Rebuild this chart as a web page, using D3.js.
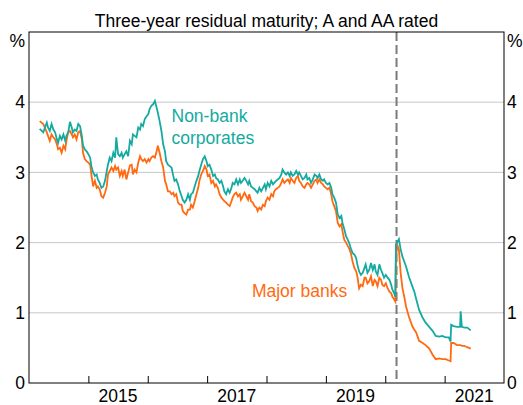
<!DOCTYPE html>
<html>
<head>
<meta charset="utf-8">
<script src="https://cdn.jsdelivr.net/npm/d3@7"></script>
<style>
  body { margin: 0; background: #fff; }
  svg text { font-family: Arial, "Liberation Sans", sans-serif; }
</style>
</head>
<body>
<div id="chart"></div>
<script>
const width = 523;
const height = 405;
const margin = ({top: 32, right: 19, bottom: 22, left: 29});
const fontSize = 17.5;

const title = "Three-year residual maturity; A and AA rated";

// dates as decimal years
const dates = [
  2014.18, 2014.24, 2014.30, 2014.32, 2014.35, 2014.38, 2014.41, 2014.44, 2014.47, 2014.49,
  2014.52, 2014.55, 2014.58, 2014.61, 2014.63, 2014.66, 2014.69, 2014.72, 2014.74, 2014.77,
  2014.80, 2014.83, 2014.86, 2014.89, 2014.91, 2014.94, 2014.97, 2015.00, 2015.03, 2015.05,
  2015.08, 2015.11, 2015.14, 2015.16, 2015.19, 2015.22, 2015.25, 2015.28, 2015.31, 2015.33,
  2015.36, 2015.39, 2015.42, 2015.45, 2015.47, 2015.50, 2015.53, 2015.56, 2015.58, 2015.61,
  2015.64, 2015.67, 2015.70, 2015.73, 2015.75, 2015.78, 2015.81, 2015.84, 2015.87, 2015.89,
  2015.92, 2015.95, 2015.98, 2016.01, 2016.03, 2016.06, 2016.09, 2016.12, 2016.15, 2016.17,
  2016.20, 2016.23, 2016.26, 2016.29, 2016.31, 2016.34, 2016.37, 2016.40, 2016.43, 2016.45,
  2016.48, 2016.51, 2016.54, 2016.57, 2016.59, 2016.62, 2016.65, 2016.68, 2016.71, 2016.73,
  2016.76, 2016.79, 2016.82, 2016.85, 2016.87, 2016.90, 2016.93, 2016.96, 2016.99, 2017.01,
  2017.04, 2017.07, 2017.10, 2017.13, 2017.15, 2017.18, 2017.21, 2017.24, 2017.27, 2017.29,
  2017.32, 2017.35, 2017.38, 2017.41, 2017.43, 2017.46, 2017.49, 2017.52, 2017.55, 2017.57,
  2017.60, 2017.63, 2017.66, 2017.69, 2017.71, 2017.74, 2017.77, 2017.80, 2017.83, 2017.85,
  2017.88, 2017.91, 2017.94, 2017.97, 2017.99, 2018.02, 2018.05, 2018.08, 2018.11, 2018.13,
  2018.16, 2018.19, 2018.22, 2018.25, 2018.27, 2018.30, 2018.33, 2018.36, 2018.39, 2018.41,
  2018.44, 2018.47, 2018.50, 2018.53, 2018.55, 2018.58, 2018.61, 2018.64, 2018.67, 2018.69,
  2018.72, 2018.75, 2018.78, 2018.81, 2018.84, 2018.86, 2018.89, 2018.92, 2018.95, 2018.97,
  2019.00, 2019.03, 2019.06, 2019.09, 2019.11, 2019.14, 2019.17, 2019.20, 2019.23, 2019.26,
  2019.28, 2019.31, 2019.34, 2019.37, 2019.39, 2019.42, 2019.45, 2019.48, 2019.51, 2019.53,
  2019.56, 2019.59, 2019.62, 2019.65, 2019.67, 2019.70, 2019.73, 2019.76, 2019.79, 2019.82,
  2019.84, 2019.87, 2019.90, 2019.93, 2019.95, 2019.98, 2020.01, 2020.04, 2020.07, 2020.10,
  2020.12, 2020.15, 2020.17, 2020.18, 2020.21, 2020.23, 2020.26, 2020.29, 2020.32, 2020.35,
  2020.40, 2020.46, 2020.49, 2020.52, 2020.57, 2020.63, 2020.68, 2020.74, 2020.80, 2020.85,
  2020.91, 2020.96, 2021.02, 2021.07, 2021.10, 2021.11, 2021.15, 2021.21, 2021.26, 2021.27,
  2021.29, 2021.33, 2021.38, 2021.44
];

const nonBank = [
  3.62, 3.57, 3.71, 3.64, 3.59, 3.69, 3.61, 3.57, 3.47, 3.42,
  3.52, 3.47, 3.54, 3.45, 3.52, 3.57, 3.72, 3.64, 3.57, 3.61,
  3.59, 3.69, 3.66, 3.52, 3.38, 3.33, 3.30, 3.26, 3.21, 3.09,
  3.00, 2.95, 2.97, 2.90, 2.85, 2.78, 2.80, 2.88, 3.02, 3.11,
  3.21, 3.16, 3.28, 3.21, 3.50, 3.26, 3.23, 3.28, 3.21, 3.26,
  3.30, 3.23, 3.45, 3.40, 3.54, 3.52, 3.50, 3.64, 3.61, 3.69,
  3.66, 3.76, 3.80, 3.83, 3.90, 3.95, 3.97, 4.02, 3.92, 3.85,
  3.73, 3.59, 3.40, 3.30, 3.16, 3.11, 3.09, 3.07, 2.95, 2.88,
  2.90, 2.83, 2.73, 2.66, 2.61, 2.57, 2.61, 2.69, 2.61, 2.69,
  2.71, 2.80, 2.88, 2.95, 3.02, 3.11, 3.19, 3.23, 3.16, 3.09,
  3.11, 3.04, 2.95, 2.97, 2.92, 2.90, 2.85, 2.88, 2.80, 2.73,
  2.69, 2.76, 2.71, 2.78, 2.85, 2.83, 2.90, 2.83, 2.90, 2.85,
  2.88, 2.92, 2.88, 2.83, 2.88, 2.80, 2.78, 2.76, 2.73, 2.71,
  2.78, 2.73, 2.78, 2.83, 2.76, 2.85, 2.80, 2.88, 2.83, 2.85,
  2.88, 2.90, 2.92, 2.97, 3.04, 3.00, 2.97, 3.00, 2.95, 3.00,
  2.95, 2.97, 3.02, 2.97, 3.00, 2.95, 2.90, 2.92, 2.97, 2.90,
  2.92, 2.85, 2.90, 2.97, 2.95, 2.92, 2.97, 2.90, 2.88, 2.90,
  2.85, 2.83, 2.85, 2.78, 2.69, 2.64, 2.57, 2.40, 2.35, 2.38,
  2.28, 2.19, 2.09, 2.04, 2.00, 1.92, 1.85, 1.83, 1.78, 1.69,
  1.59, 1.54, 1.57, 1.64, 1.69, 1.57, 1.61, 1.71, 1.61, 1.69,
  1.59, 1.54, 1.69, 1.61, 1.57, 1.50, 1.54, 1.50, 1.47, 1.40,
  1.33, 1.28, 1.23, 1.97, 2.02, 2.05, 1.90, 1.80, 1.73, 1.66,
  1.51, 1.37, 1.30, 1.20, 1.04, 0.93, 0.86, 0.80, 0.74, 0.67,
  0.66, 0.67, 0.65, 0.65, 0.59, 0.83, 0.81, 0.80, 0.80, 1.02,
  0.80, 0.79, 0.79, 0.75
];

const majorBanks = [
  3.73, 3.69, 3.57, 3.52, 3.45, 3.54, 3.50, 3.47, 3.40, 3.33,
  3.35, 3.28, 3.38, 3.33, 3.45, 3.57, 3.59, 3.54, 3.50, 3.54,
  3.47, 3.57, 3.59, 3.47, 3.28, 3.19, 3.16, 3.14, 3.11, 2.97,
  2.80, 2.88, 2.78, 2.80, 2.76, 2.66, 2.64, 2.71, 2.80, 2.97,
  3.02, 3.07, 3.02, 3.09, 3.04, 3.07, 2.95, 3.02, 2.95, 3.04,
  2.90, 3.00, 3.10, 3.11, 2.97, 3.04, 3.00, 3.14, 3.23, 3.19,
  3.16, 3.19, 3.14, 3.19, 3.16, 3.21, 3.23, 3.21, 3.30, 3.38,
  3.28, 3.16, 3.07, 2.88, 2.83, 2.73, 2.73, 2.69, 2.71, 2.66,
  2.69, 2.57, 2.54, 2.54, 2.45, 2.42, 2.40, 2.47, 2.47, 2.54,
  2.50, 2.59, 2.69, 2.78, 2.88, 2.97, 3.02, 3.09, 3.04, 2.95,
  2.97, 2.85, 2.88, 2.80, 2.83, 2.78, 2.69, 2.64, 2.61, 2.59,
  2.57, 2.54, 2.52, 2.59, 2.64, 2.69, 2.71, 2.66, 2.69, 2.61,
  2.66, 2.71, 2.66, 2.61, 2.69, 2.59, 2.57, 2.52, 2.50, 2.45,
  2.50, 2.47, 2.54, 2.52, 2.59, 2.64, 2.61, 2.69, 2.66, 2.73,
  2.76, 2.78, 2.80, 2.85, 2.90, 2.85, 2.88, 2.90, 2.85, 2.92,
  2.88, 2.85, 2.92, 2.95, 2.88, 2.85, 2.80, 2.78, 2.83, 2.85,
  2.83, 2.78, 2.83, 2.88, 2.90, 2.85, 2.90, 2.85, 2.83, 2.80,
  2.78, 2.76, 2.78, 2.69, 2.59, 2.52, 2.45, 2.28, 2.23, 2.26,
  2.16, 2.04, 2.00, 1.95, 1.92, 1.85, 1.73, 1.64, 1.59, 1.52,
  1.35, 1.40, 1.38, 1.50, 1.50, 1.42, 1.45, 1.52, 1.38, 1.47,
  1.45, 1.38, 1.50, 1.47, 1.40, 1.38, 1.42, 1.35, 1.30, 1.28,
  1.23, 1.19, 1.16, 1.83, 1.95, 1.90, 1.56, 1.35, 1.23, 1.09,
  0.94, 0.80, 0.76, 0.72, 0.60, 0.57, 0.54, 0.49, 0.40, 0.34,
  0.35, 0.34, 0.34, 0.32, 0.31, 0.57, 0.57, 0.54, 0.54, 0.54,
  0.53, 0.53, 0.51, 0.49
];

const yTicks = [0, 1, 2, 3, 4];
const yearTicks = [2015, 2016, 2017, 2018, 2019, 2020, 2021];
const yearLabels = [2015, 2017, 2019, 2021];
const eventDate = 2020.19;

const teal = "#14aaa0";
const orange = "#ff6a10";

const svg = d3.select("#chart").append("svg")
  .attr("width", width)
  .attr("height", height);

const x = d3.scaleLinear()
  .domain([2014, 2022])
  .range([margin.left, width - margin.right]);

const y = d3.scaleLinear()
  .domain([0, 5])
  .range([height - margin.bottom, margin.top]);

// gridlines
svg.append("g")
  .selectAll("line")
  .data(yTicks.filter(d => d > 0))
  .join("line")
    .attr("x1", x.range()[0])
    .attr("x2", x.range()[1])
    .attr("y1", d => y(d))
    .attr("y2", d => y(d))
    .attr("stroke", "#c8c8c8")
    .attr("stroke-width", 1);

// dashed event line
svg.append("line")
  .attr("x1", x(eventDate)).attr("x2", x(eventDate))
  .attr("y1", y(5)).attr("y2", y(0))
  .attr("stroke", "#7a7a7a")
  .attr("stroke-width", 2)
  .attr("stroke-dasharray", "9,4");

const line = d3.line()
  .x((d, i) => x(dates[i]))
  .y(d => y(d));

svg.append("path")
  .datum(majorBanks)
  .attr("fill", "none")
  .attr("stroke", orange)
  .attr("stroke-width", 1.8)
  .attr("d", line);

svg.append("path")
  .datum(nonBank)
  .attr("fill", "none")
  .attr("stroke", teal)
  .attr("stroke-width", 1.8)
  .attr("d", line);

// frame
svg.append("rect")
  .attr("x", x.range()[0])
  .attr("y", y(5))
  .attr("width", x.range()[1] - x.range()[0])
  .attr("height", y(0) - y(5))
  .attr("fill", "none")
  .attr("stroke", "#000")
  .attr("stroke-width", 1);

// x axis ticks (inward), labels at mid-year
const xAxis = g => g
  .attr("transform", `translate(0,${y(0)})`)
  .call(d3.axisBottom(x).tickValues(yearTicks).tickSize(-7).tickFormat(""))
  .call(g => g.select(".domain").remove())
  .call(g => g.selectAll(".tick line").attr("stroke", "#000"));

svg.append("g").call(xAxis);

svg.append("g")
  .selectAll("text")
  .data(yearLabels)
  .join("text")
    .attr("x", d => x(d + 0.5))
    .attr("y", height - 3)
    .attr("text-anchor", "middle")
    .attr("font-size", fontSize)
    .text(d => d);

const yAxisLeft = g => g
  .attr("transform", `translate(${x.range()[0]},0)`)
  .call(d3.axisLeft(y).tickValues(yTicks).tickSize(0).tickPadding(4).tickFormat(d3.format("d")))
  .call(g => g.select(".domain").remove())
  .call(g => g.selectAll("text").attr("font-size", fontSize).attr("fill", "#000"));

const yAxisRight = g => g
  .attr("transform", `translate(${x.range()[1]},0)`)
  .call(d3.axisRight(y).tickValues(yTicks).tickSize(0).tickPadding(3).tickFormat(d3.format("d")))
  .call(g => g.select(".domain").remove())
  .call(g => g.selectAll("text").attr("font-size", fontSize).attr("fill", "#000"));

svg.append("g").call(yAxisLeft);
svg.append("g").call(yAxisRight);

// units
svg.append("text")
  .attr("x", x.range()[0] - 4)
  .attr("y", 47)
  .attr("text-anchor", "end")
  .attr("font-size", fontSize)
  .text("%");

svg.append("text")
  .attr("x", x.range()[1] + 3)
  .attr("y", 47)
  .attr("text-anchor", "start")
  .attr("font-size", fontSize)
  .text("%");

// title
svg.append("text")
  .attr("x", (x.range()[0] + x.range()[1]) / 2)
  .attr("y", 26.5)
  .attr("text-anchor", "middle")
  .attr("font-size", fontSize)
  .text(title);

// series labels
const nb = svg.append("text")
  .attr("fill", teal)
  .attr("font-size", fontSize);
nb.append("tspan").attr("x", x(2016.4)).attr("y", y(3.72)).text("Non-bank");
nb.append("tspan").attr("x", x(2016.4)).attr("y", y(3.40)).text("corporates");

svg.append("text")
  .attr("x", x(2019.36))
  .attr("y", y(1.22))
  .attr("text-anchor", "end")
  .attr("fill", orange)
  .attr("font-size", fontSize)
  .text("Major banks");
</script>
</body>
</html>
